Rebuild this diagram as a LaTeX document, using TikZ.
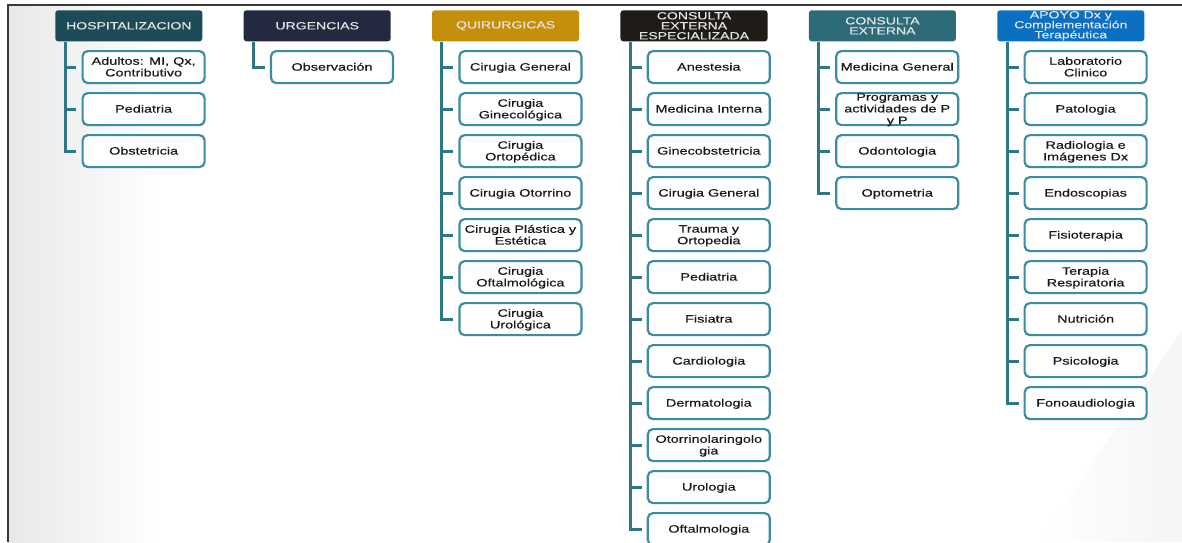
\documentclass[tikz,border=0pt]{standalone}
\usepackage{fontspec}
\setmainfont[FakeStretch=1.35,FakeBold=0.35]{Liberation Sans}
\usetikzlibrary{calc}
\definecolor{hosp}{HTML}{1D4B57}
\definecolor{urg}{HTML}{232A40}
\definecolor{quir}{HTML}{C68F0B}
\definecolor{cee}{HTML}{1F1B16}
\definecolor{cext}{HTML}{2E6B78}
\definecolor{apoyo}{HTML}{0B6FC2}
\definecolor{boxline}{HTML}{3C8DA0}
\definecolor{connc}{HTML}{2E7787}
\definecolor{framec}{HTML}{3A3A3A}
\definecolor{hdrtext}{HTML}{E4E4E4}
\tikzset{
  hdr/.style={anchor=north west, minimum width=3.675cm, minimum height=0.775cm,
    rounded corners=0.07cm, inner sep=0pt, align=center, text=hdrtext,
    font=\fontsize{7.4}{7.1}\selectfont},
  item/.style={anchor=north west, draw=boxline, line width=0.055cm, fill=white,
    rounded corners=0.13cm, minimum width=3.05cm, minimum height=0.8cm,
    inner sep=0pt, align=center, text=black!90, text depth=0.02cm,
    font=\fontsize{7.6}{8.3}\selectfont},
  link/.style={draw=connc, line width=0.075cm},
}
\begin{document}
\begin{tikzpicture}[x=0.025cm,y=-0.025cm]
\useasboundingbox (0,0) rectangle (1182,542);
\fill[white] (0,0) rectangle (1182,542);
\shade[left color=black!9, right color=white] (8,5) rectangle (160,542);
\shade[left color=white, right color=black!4] (1040,542) -- (1182,330) -- (1182,542) -- cycle;
\draw[framec, line width=0.05cm] (8,542) -- (8,5) -- (1182,5);

% Column 1
\node[hdr, fill=hosp] (H1) at (55,10) {HOSPITALIZACION};
\foreach \t [count=\i] in {{Adultos: MI, Qx,\\Contributivo},Pediatria,Obstetricia}{
  \node[item] (A\i) at (81.5,{8+42*\i}) {\t};
  \draw[link] ([xshift=-0.125cm]A\i.west) -- ++(-0.2875cm,0);
}
\draw[link] ([xshift=0.25cm]H1.south west) |- ([xshift=-0.125cm]A3.west);

% Column 2
\node[hdr, fill=urg] (H2) at (243.4,10) {URGENCIAS};
\node[item] (B1) at (269.9,50) {Observación};
\draw[link] ([xshift=0.25cm]H2.south west) |- ([xshift=-0.125cm]B1.west);

% Column 3
\node[hdr, fill=quir] (H3) at (431.8,10) {QUIRURGICAS};
\foreach \t [count=\i] in {Cirugia General,{Cirugia\\Ginecológica},{Cirugia\\Ortopédica},Cirugia Otorrino,{Cirugia Plástica y\\Estética},{Cirugia\\Oftalmológica},{Cirugia\\Urológica}}{
  \node[item] (C\i) at (458.3,{8+42*\i}) {\t};
  \draw[link] ([xshift=-0.125cm]C\i.west) -- ++(-0.2875cm,0);
}
\draw[link] ([xshift=0.25cm]H3.south west) |- ([xshift=-0.125cm]C7.west);

% Column 4
\node[hdr, fill=cee] (H4) at (620.2,10) {CONSULTA\\EXTERNA\\ESPECIALIZADA};
\foreach \t [count=\i] in {Anestesia,Medicina Interna,Ginecobstetricia,Cirugia General,{Trauma y\\Ortopedia},Pediatria,Fisiatra,Cardiologia,Dermatologia,{Otorrinolaringolo\\gia},Urologia,Oftalmologia}{
  \node[item] (D\i) at (646.7,{8+42*\i}) {\t};
  \draw[link] ([xshift=-0.125cm]D\i.west) -- ++(-0.2875cm,0);
}
\draw[link] ([xshift=0.25cm]H4.south west) |- ([xshift=-0.125cm]D12.west);

% Column 5
\node[hdr, fill=cext] (H5) at (808.6,10) {CONSULTA\\EXTERNA};
\foreach \t [count=\i] in {Medicina General,{Programas y\\actividades de P\\y P},Odontologia,Optometria}{
  \node[item] (E\i) at (835.1,{8+42*\i}) {\t};
  \draw[link] ([xshift=-0.125cm]E\i.west) -- ++(-0.2875cm,0);
}
\draw[link] ([xshift=0.25cm]H5.south west) |- ([xshift=-0.125cm]E4.west);

% Column 6
\node[hdr, fill=apoyo] (H6) at (997,10) {APOYO Dx y\\Complementación\\Terapéutica};
\foreach \t [count=\i] in {{Laboratorio\\Clinico},Patologia,{Radiologia e\\Imágenes Dx},Endoscopias,Fisioterapia,{Terapia\\Respiratoria},Nutrición,Psicologia,Fonoaudiologia}{
  \node[item] (F\i) at (1023.5,{8+42*\i}) {\t};
  \draw[link] ([xshift=-0.125cm]F\i.west) -- ++(-0.2875cm,0);
}
\draw[link] ([xshift=0.25cm]H6.south west) |- ([xshift=-0.125cm]F9.west);
\end{tikzpicture}
\end{document}
